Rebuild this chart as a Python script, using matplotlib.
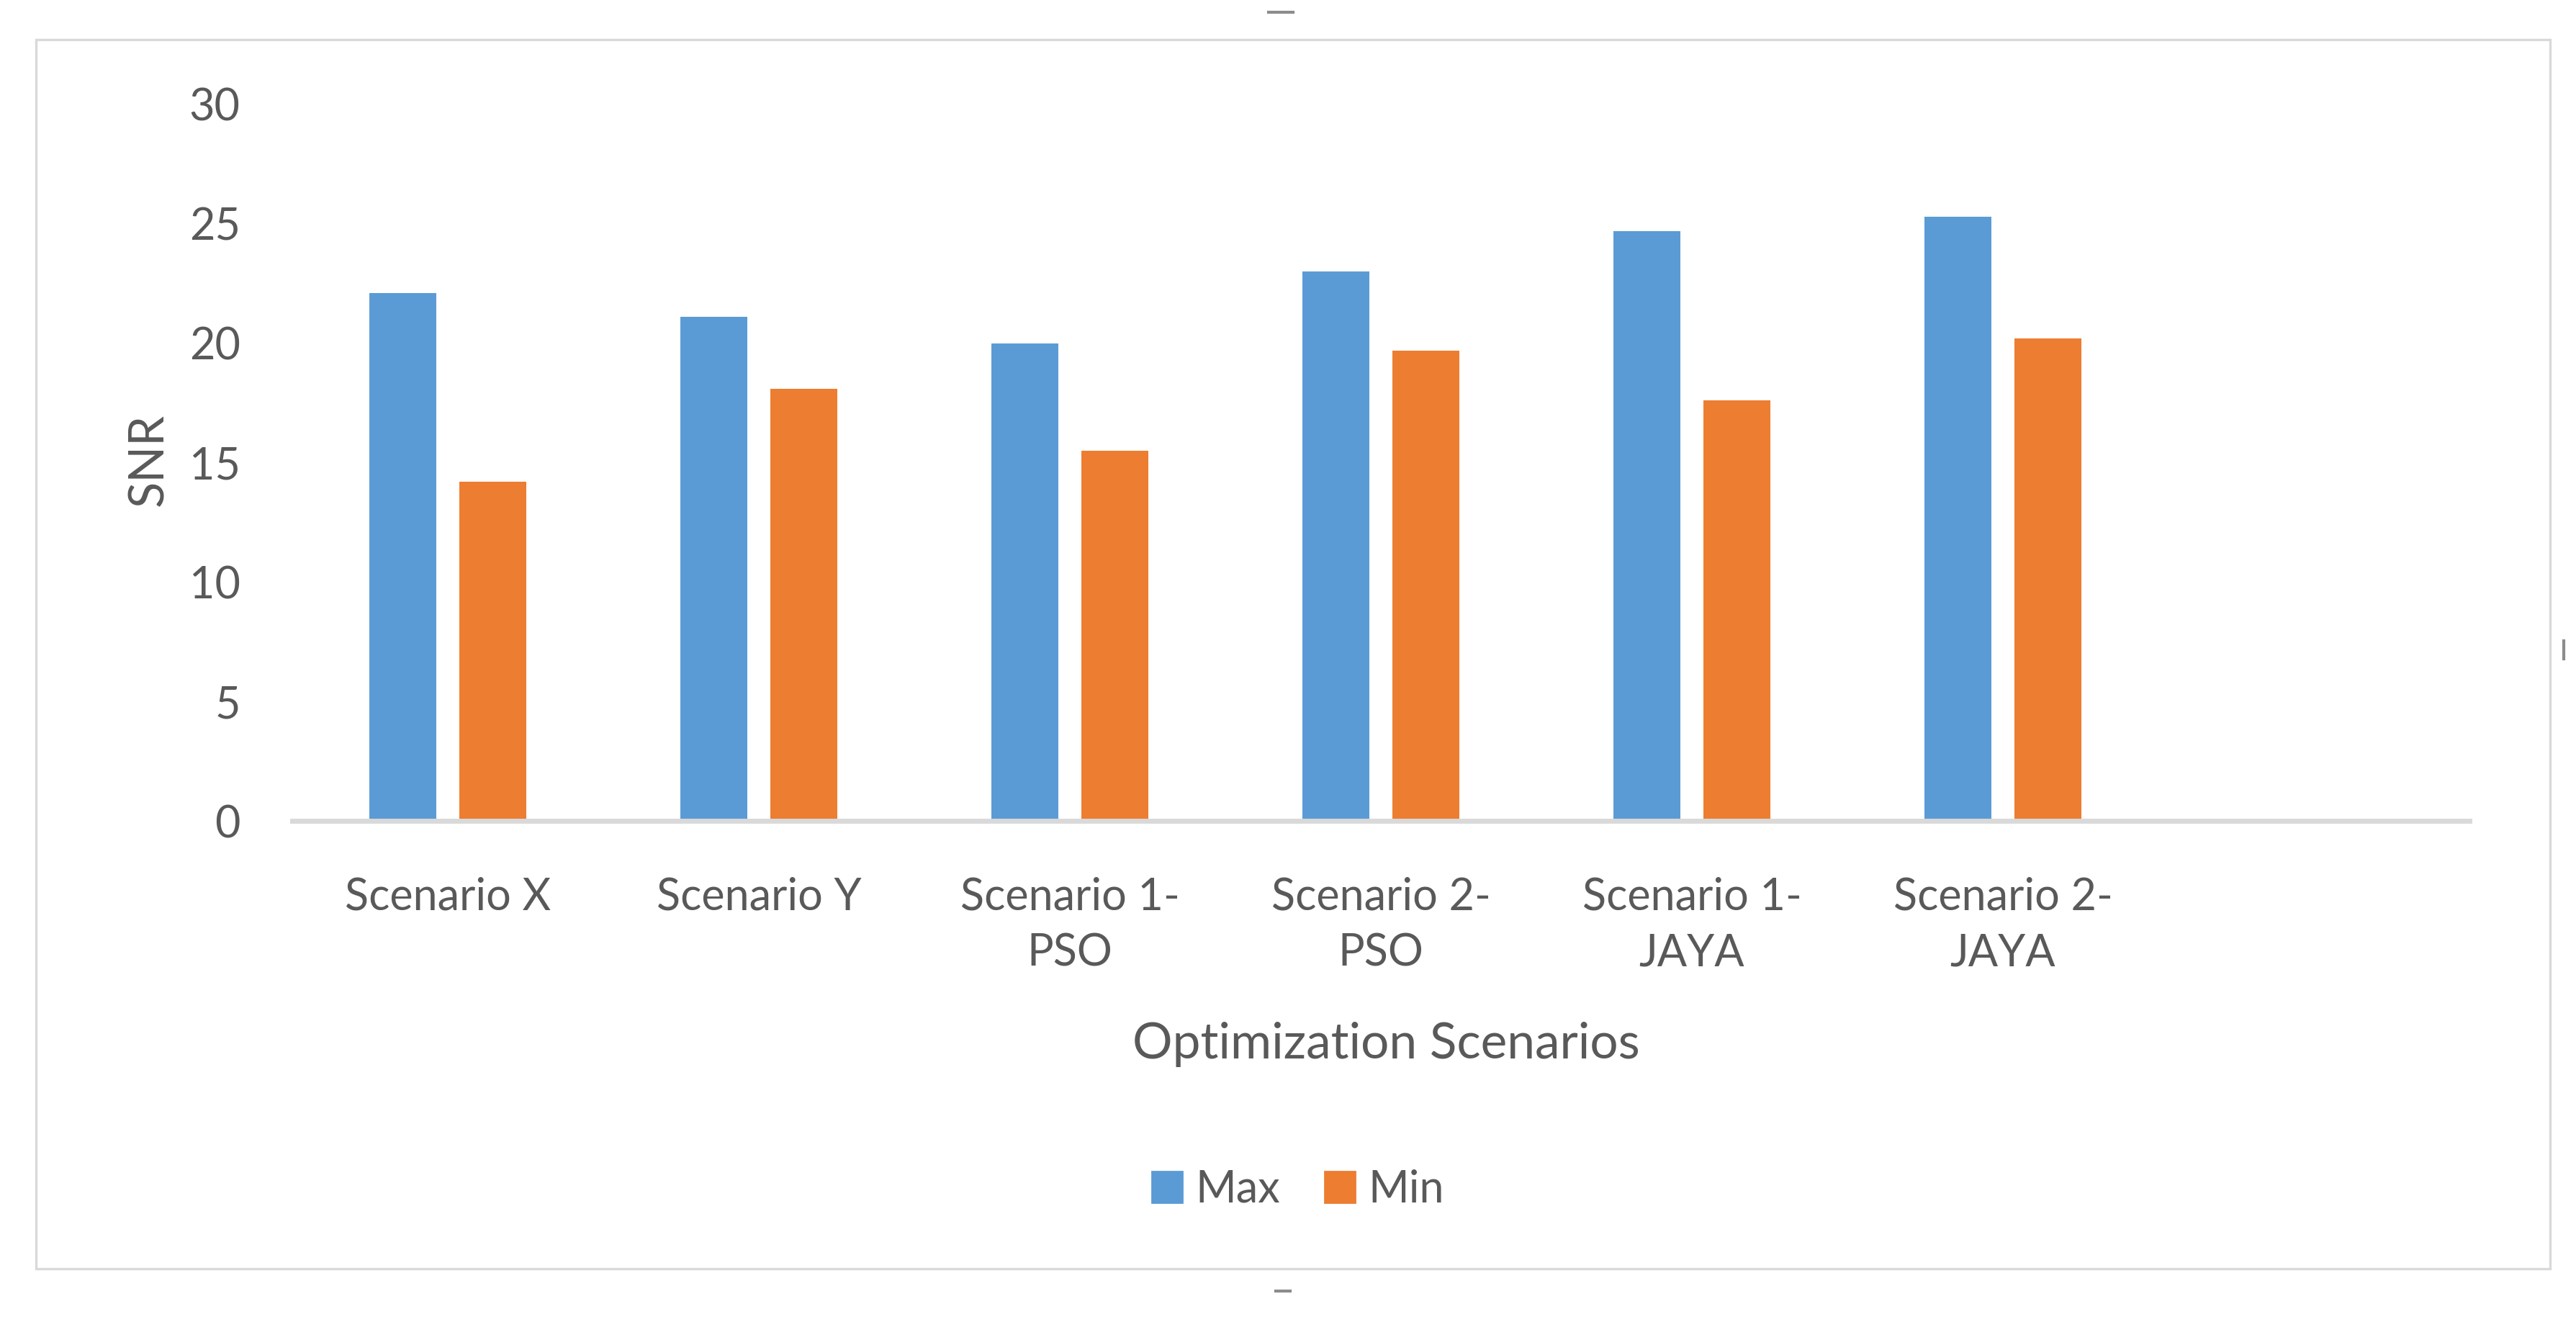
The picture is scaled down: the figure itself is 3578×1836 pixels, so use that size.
import matplotlib.pyplot as plt
from matplotlib.patches import Rectangle, Patch
from matplotlib.lines import Line2D

# 데이터
categories = ["Scenario X", "Scenario Y", "Scenario 1-\nPSO", "Scenario 2-\nPSO",
              "Scenario 1-\nJAYA", "Scenario 2-\nJAYA"]
snr_max = [22.1, 21.1, 20.0, 23.0, 24.7, 25.3]
snr_min = [14.2, 18.1, 15.5, 19.7, 17.6, 20.2]
y_ticks = [0, 5, 10, 15, 20, 25, 30]

W, H = 3578, 1836
DPI = 200
BLUE = "#5B9BD5"
ORANGE = "#ED7D31"
TXT = "#595959"
LINE = "#D9D9D9"

plt.rcParams["font.family"] = ["Lato", "DejaVu Sans"]

fig = plt.figure(figsize=(W / DPI, H / DPI), dpi=DPI)

# 차트 테두리
fig.patches.append(Rectangle((50 / W, 1 - 1762 / H), (3542 - 50) / W, (1762 - 55) / H,
                             transform=fig.transFigure, fill=False,
                             edgecolor=LINE, linewidth=1.2))

# 선택 핸들 (작은 회색 표시)
for (x0, y0, x1, y1) in [(1762, 17, 1796, 17), (1772, 1793, 1792, 1793), (3561, 890, 3561, 915)]:
    fig.lines.append(Line2D([x0 / W, x1 / W], [1 - y0 / H, 1 - y1 / H],
                            transform=fig.transFigure, color="#8c8c8c", linewidth=1.5))

ax = fig.add_axes([406 / W, 1 - 1140 / H, (3430 - 406) / W, (1140 - 145) / H])

n_slots = 7
xs = list(range(len(categories)))
bw = 0.216
off = 0.145
ax.bar([x - off for x in xs], snr_max, width=bw, color=BLUE, label="Max")
ax.bar([x + off for x in xs], snr_min, width=bw, color=ORANGE, label="Min")

ax.set_xlim(-0.5, n_slots - 0.5)
ax.set_ylim(0, 30)
ax.set_yticks(y_ticks)
ax.set_xticks(xs)
ax.set_xticklabels(categories, linespacing=1.45)

for s in ["top", "right", "left"]:
    ax.spines[s].set_visible(False)
ax.spines["bottom"].set_color(LINE)
ax.spines["bottom"].set_linewidth(2.5)

ax.tick_params(axis="y", length=0, pad=26, labelsize=22, labelcolor=TXT)
ax.tick_params(axis="x", length=0, pad=28, labelsize=22, labelcolor=TXT)

fig.text(207 / W, 1 - 639 / H, "SNR", rotation=90, ha="center", va="center",
         fontsize=24, color=TXT)
fig.text(1925 / W, 1 - 1450 / H, "Optimization Scenarios", ha="center", va="center",
         fontsize=25, color=TXT)

handles = [Patch(color=BLUE), Patch(color=ORANGE)]
fig.legend(handles, ["Max", "Min"], loc="center", bbox_to_anchor=(1803 / W, 1 - 1652 / H),
           ncol=2, frameon=False, fontsize=22, labelcolor=TXT,
           handlelength=0.7, handleheight=0.7, handletextpad=0.3, columnspacing=1.0)

fig.savefig("out.png", dpi=DPI, facecolor="white")
